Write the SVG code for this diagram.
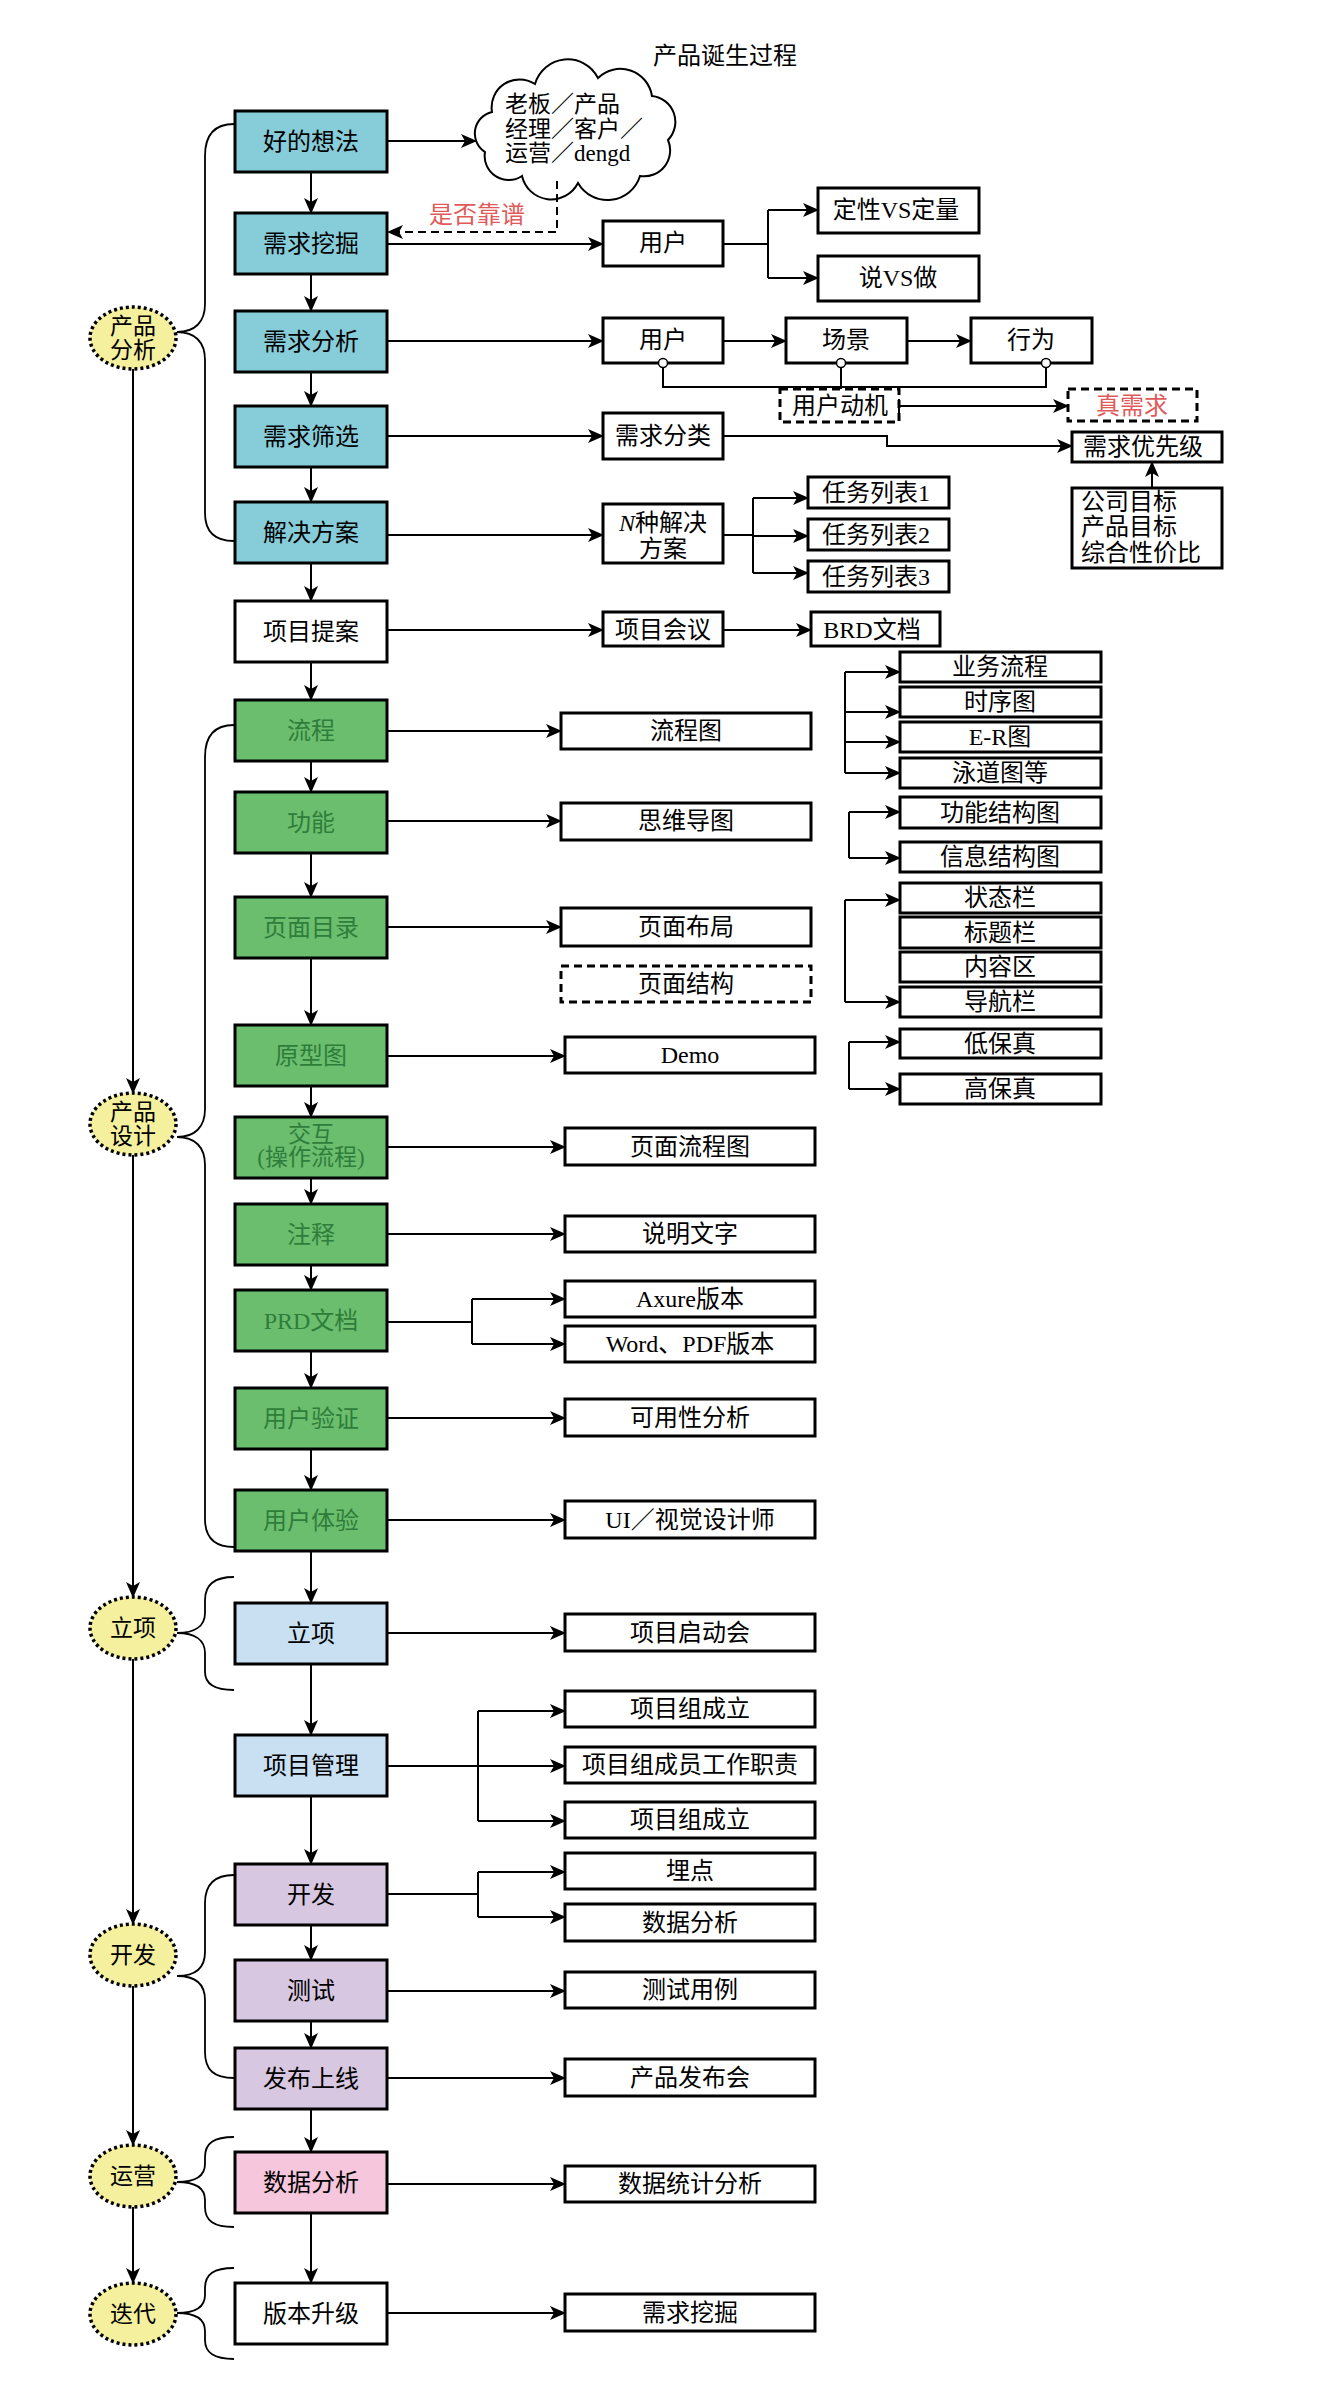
<svg xmlns="http://www.w3.org/2000/svg" width="1320" height="2397" viewBox="0 0 1320 2397">
<style>
text{font-family:"Liberation Serif","Noto Sans CJK SC",serif;font-size:24px;fill:#000}
.c{text-anchor:middle}
.s{font-size:23px}
.n{stroke:#000;stroke-width:3}
.blue{fill:#87CDD9}.green{fill:#6BBE6E}.lb{fill:#C9E0F3}.pur{fill:#D8C7E0}.pink{fill:#F6C6DC}.wh{fill:#fff}
.gt{fill:#2F7D3A}
.dash{fill:#fff;stroke:#000;stroke-width:3;stroke-dasharray:8 5}
.st{fill:#F5F09E;stroke:#000;stroke-width:3.5;stroke-dasharray:3 3}
.ln{fill:none;stroke:#000;stroke-width:2}
.ar{fill:none;stroke:#000;stroke-width:2;marker-end:url(#ah)}
.br{fill:none;stroke:#000;stroke-width:1.8}
.red{fill:#E05A5A}
</style>
<defs>
<marker id="ah" markerUnits="userSpaceOnUse" markerWidth="16" markerHeight="14" refX="15" refY="7" orient="auto"><path d="M0,0 L16,7 L0,14 L4,7 Z" fill="#000"/></marker>
<marker id="tk" markerUnits="userSpaceOnUse" markerWidth="4" markerHeight="14" refX="2" refY="7" orient="auto"><path d="M2,0 V14" stroke="#000" stroke-width="2"/></marker>
</defs>

<text class="c" x="725" y="64">产品诞生过程</text>

<!-- main column -->
<g id="n-idea"><rect class="n blue" x="235" y="111" width="152" height="61"/><text class="c" x="311" y="150">好的想法</text></g>
<g id="n-wajue"><rect class="n blue" x="235" y="213" width="152" height="61"/><text class="c" x="311" y="252">需求挖掘</text></g>
<g id="n-fenxi"><rect class="n blue" x="235" y="311" width="152" height="61"/><text class="c" x="311" y="350">需求分析</text></g>
<g id="n-shaixuan"><rect class="n blue" x="235" y="406" width="152" height="61"/><text class="c" x="311" y="445">需求筛选</text></g>
<g id="n-fangan"><rect class="n blue" x="235" y="502" width="152" height="61"/><text class="c" x="311" y="541">解决方案</text></g>
<g id="n-tian"><rect class="n wh" x="235" y="601" width="152" height="61"/><text class="c" x="311" y="640">项目提案</text></g>
<g id="n-liucheng"><rect class="n green" x="235" y="700" width="152" height="61"/><text class="c gt" x="311" y="739">流程</text></g>
<g id="n-gongneng"><rect class="n green" x="235" y="792" width="152" height="61"/><text class="c gt" x="311" y="831">功能</text></g>
<g id="n-mulu"><rect class="n green" x="235" y="897" width="152" height="61"/><text class="c gt" x="311" y="936">页面目录</text></g>
<g id="n-yuanxing"><rect class="n green" x="235" y="1025" width="152" height="61"/><text class="c gt" x="311" y="1064">原型图</text></g>
<g id="n-jiaohu"><rect class="n green" x="235" y="1117" width="152" height="61"/><text class="c gt s" x="311" y="1142">交互</text><text class="c gt s" x="311" y="1165">(操作流程)</text></g>
<g id="n-zhushi"><rect class="n green" x="235" y="1204" width="152" height="61"/><text class="c gt" x="311" y="1243">注释</text></g>
<g id="n-prd"><rect class="n green" x="235" y="1290" width="152" height="61"/><text class="c gt" x="311" y="1329">PRD文档</text></g>
<g id="n-yanzheng"><rect class="n green" x="235" y="1388" width="152" height="61"/><text class="c gt" x="311" y="1427">用户验证</text></g>
<g id="n-tiyan"><rect class="n green" x="235" y="1490" width="152" height="61"/><text class="c gt" x="311" y="1529">用户体验</text></g>
<g id="n-lixiang"><rect class="n lb" x="235" y="1603" width="152" height="61"/><text class="c" x="311" y="1642">立项</text></g>
<g id="n-guanli"><rect class="n lb" x="235" y="1735" width="152" height="61"/><text class="c" x="311" y="1774">项目管理</text></g>
<g id="n-kaifa"><rect class="n pur" x="235" y="1864" width="152" height="61"/><text class="c" x="311" y="1903">开发</text></g>
<g id="n-ceshi"><rect class="n pur" x="235" y="1960" width="152" height="61"/><text class="c" x="311" y="1999">测试</text></g>
<g id="n-fabu"><rect class="n pur" x="235" y="2048" width="152" height="61"/><text class="c" x="311" y="2087">发布上线</text></g>
<g id="n-shuju"><rect class="n pink" x="235" y="2152" width="152" height="61"/><text class="c" x="311" y="2191">数据分析</text></g>
<g id="n-banben"><rect class="n wh" x="235" y="2283" width="152" height="61"/><text class="c" x="311" y="2322">版本升级</text></g>

<!-- stage ellipses -->
<g id="s-fenxi"><ellipse class="st" cx="133" cy="338" rx="43" ry="31"/><text class="c s" x="133" y="334">产品</text><text class="c s" x="133" y="358">分析</text></g>
<g id="s-sheji"><ellipse class="st" cx="133" cy="1124" rx="43" ry="31"/><text class="c s" x="133" y="1120">产品</text><text class="c s" x="133" y="1144">设计</text></g>
<g id="s-lixiang"><ellipse class="st" cx="133" cy="1628" rx="43" ry="31"/><text class="c s" x="133" y="1636">立项</text></g>
<g id="s-kaifa"><ellipse class="st" cx="133" cy="1955" rx="43" ry="31"/><text class="c s" x="133" y="1963">开发</text></g>
<g id="s-yunying"><ellipse class="st" cx="133" cy="2176" rx="43" ry="31"/><text class="c s" x="133" y="2184">运营</text></g>
<g id="s-diedai"><ellipse class="st" cx="133" cy="2314" rx="43" ry="31"/><text class="c s" x="133" y="2322">迭代</text></g>

<!-- cloud -->
<g id="n-cloud">
<path d="M492,112 A28,28 0 0 1 535,84 A34,34 0 0 1 598,78 A32,32 0 0 1 652,96 A26,26 0 0 1 668,140 A26,26 0 0 1 640,176 A34,34 0 0 1 578,183 A30,30 0 0 1 522,176 A24,24 0 0 1 485,152 A22,22 0 0 1 492,112 Z" fill="#fff" stroke="#000" stroke-width="2"/>
<text class="s" x="505" y="112">老板／产品</text>
<text class="s" x="505" y="137">经理／客户／</text>
<text class="s" x="505" y="161">运营／dengd</text>
</g>
<text class="red" x="429" y="223">是否靠谱</text>

<!-- analysis side boxes -->
<g id="n-yonghu1"><rect class="n wh" x="603" y="221" width="120" height="45"/><text class="c" x="663" y="251">用户</text></g>
<g id="n-dingxing"><rect class="n wh" x="818" y="188" width="161" height="45"/><text class="c" x="896" y="218">定性VS定量</text></g>
<g id="n-shuo"><rect class="n wh" x="818" y="256" width="161" height="45"/><text class="c" x="898" y="286">说VS做</text></g>
<g id="n-yonghu2"><rect class="n wh" x="603" y="318" width="120" height="45"/><text class="c" x="663" y="348">用户</text></g>
<g id="n-changjing"><rect class="n wh" x="786" y="318" width="121" height="45"/><text class="c" x="846" y="348">场景</text></g>
<g id="n-xingwei"><rect class="n wh" x="971" y="318" width="121" height="45"/><text class="c" x="1031" y="348">行为</text></g>
<g id="n-dongji"><rect class="dash" x="780" y="389" width="119" height="33"/><text class="c" x="840" y="414">用户动机</text></g>
<g id="n-zhen"><rect class="dash" x="1068" y="389" width="129" height="32"/><text class="c red" x="1132" y="414">真需求</text></g>
<g id="n-fenlei"><rect class="n wh" x="603" y="413" width="120" height="46"/><text class="c" x="663" y="444">需求分类</text></g>
<g id="n-youxian"><rect class="n wh" x="1072" y="432" width="150" height="30"/><text class="c" x="1143" y="455">需求优先级</text></g>
<g id="n-mubiao"><rect class="n wh" x="1072" y="488" width="150" height="80"/><text x="1081" y="510">公司目标</text><text x="1081" y="535">产品目标</text><text x="1081" y="561">综合性价比</text></g>
<g id="n-nzhong"><rect class="n wh" x="603" y="504" width="120" height="59"/><text class="c" x="663" y="531"><tspan font-style="italic">N</tspan>种解决</text><text class="c" x="663" y="557">方案</text></g>
<g id="n-rw1"><rect class="n wh" x="808" y="477" width="141" height="31"/><text class="c" x="876" y="501">任务列表1</text></g>
<g id="n-rw2"><rect class="n wh" x="808" y="519" width="141" height="31"/><text class="c" x="876" y="543">任务列表2</text></g>
<g id="n-rw3"><rect class="n wh" x="808" y="561" width="141" height="31"/><text class="c" x="876" y="585">任务列表3</text></g>
<g id="n-huiyi"><rect class="n wh" x="603" y="612" width="120" height="34"/><text class="c" x="663" y="638">项目会议</text></g>
<g id="n-brd"><rect class="n wh" x="811" y="612" width="129" height="34"/><text class="c" x="872" y="638">BRD文档</text></g>

<!-- design side boxes -->
<g id="n-lct"><rect class="n wh" x="561" y="713" width="250" height="36"/><text class="c" x="686" y="739">流程图</text></g>
<g id="n-swdt"><rect class="n wh" x="561" y="803" width="250" height="37"/><text class="c" x="686" y="829">思维导图</text></g>
<g id="n-ymbj"><rect class="n wh" x="561" y="908" width="250" height="38"/><text class="c" x="686" y="935">页面布局</text></g>
<g id="n-ymjg"><rect class="dash" x="561" y="966" width="250" height="36"/><text class="c" x="686" y="992">页面结构</text></g>
<g id="n-demo"><rect class="n wh" x="565" y="1037" width="250" height="36"/><text class="c" x="690" y="1063">Demo</text></g>
<g id="n-ymlct"><rect class="n wh" x="565" y="1128" width="250" height="37"/><text class="c" x="690" y="1155">页面流程图</text></g>
<g id="n-smwz"><rect class="n wh" x="565" y="1216" width="250" height="36"/><text class="c" x="690" y="1242">说明文字</text></g>
<g id="n-axure"><rect class="n wh" x="565" y="1281" width="250" height="36"/><text class="c" x="690" y="1307">Axure版本</text></g>
<g id="n-word"><rect class="n wh" x="565" y="1326" width="250" height="36"/><text class="c" x="690" y="1352">Word、PDF版本</text></g>
<g id="n-kyx"><rect class="n wh" x="565" y="1399" width="250" height="37"/><text class="c" x="690" y="1426">可用性分析</text></g>
<g id="n-ui"><rect class="n wh" x="565" y="1501" width="250" height="37"/><text class="c" x="690" y="1528">UI／视觉设计师</text></g>

<g id="n-ywlc"><rect class="n wh" x="900" y="652" width="201" height="30"/><text class="c" x="1000" y="675">业务流程</text></g>
<g id="n-sxt"><rect class="n wh" x="900" y="687" width="201" height="30"/><text class="c" x="1000" y="710">时序图</text></g>
<g id="n-er"><rect class="n wh" x="900" y="722" width="201" height="30"/><text class="c" x="1000" y="745">E-R图</text></g>
<g id="n-ydt"><rect class="n wh" x="900" y="758" width="201" height="30"/><text class="c" x="1000" y="781">泳道图等</text></g>
<g id="n-gnjg"><rect class="n wh" x="900" y="797" width="201" height="31"/><text class="c" x="1000" y="821">功能结构图</text></g>
<g id="n-xxjg"><rect class="n wh" x="900" y="842" width="201" height="30"/><text class="c" x="1000" y="865">信息结构图</text></g>
<g id="n-ztl"><rect class="n wh" x="900" y="883" width="201" height="30"/><text class="c" x="1000" y="906">状态栏</text></g>
<g id="n-btl"><rect class="n wh" x="900" y="917" width="201" height="31"/><text class="c" x="1000" y="941">标题栏</text></g>
<g id="n-nrq"><rect class="n wh" x="900" y="952" width="201" height="30"/><text class="c" x="1000" y="975">内容区</text></g>
<g id="n-dhl"><rect class="n wh" x="900" y="987" width="201" height="30"/><text class="c" x="1000" y="1010">导航栏</text></g>
<g id="n-dbz"><rect class="n wh" x="900" y="1029" width="201" height="29"/><text class="c" x="1000" y="1052">低保真</text></g>
<g id="n-gbz"><rect class="n wh" x="900" y="1074" width="201" height="30"/><text class="c" x="1000" y="1097">高保真</text></g>

<!-- project / dev side boxes -->
<g id="n-qdh"><rect class="n wh" x="565" y="1614" width="250" height="37"/><text class="c" x="690" y="1641">项目启动会</text></g>
<g id="n-zcl1"><rect class="n wh" x="565" y="1691" width="250" height="36"/><text class="c" x="690" y="1717">项目组成立</text></g>
<g id="n-zz"><rect class="n wh" x="565" y="1747" width="250" height="36"/><text class="c" x="690" y="1773">项目组成员工作职责</text></g>
<g id="n-zcl2"><rect class="n wh" x="565" y="1802" width="250" height="36"/><text class="c" x="690" y="1828">项目组成立</text></g>
<g id="n-maidian"><rect class="n wh" x="565" y="1853" width="250" height="36"/><text class="c" x="690" y="1879">埋点</text></g>
<g id="n-sjfx"><rect class="n wh" x="565" y="1904" width="250" height="37"/><text class="c" x="690" y="1931">数据分析</text></g>
<g id="n-csyl"><rect class="n wh" x="565" y="1972" width="250" height="36"/><text class="c" x="690" y="1998">测试用例</text></g>
<g id="n-fbh"><rect class="n wh" x="565" y="2059" width="250" height="37"/><text class="c" x="690" y="2086">产品发布会</text></g>
<g id="n-tjfx"><rect class="n wh" x="565" y="2166" width="250" height="36"/><text class="c" x="690" y="2192">数据统计分析</text></g>
<g id="n-xqwj"><rect class="n wh" x="565" y="2294" width="250" height="37"/><text class="c" x="690" y="2321">需求挖掘</text></g>

<!-- connectors -->
<g id="connectors">
<!-- main vertical -->
<path class="ar" d="M311,172 V213"/>
<path class="ar" d="M311,274 V311"/>
<path class="ar" d="M311,372 V406"/>
<path class="ar" d="M311,467 V502"/>
<path class="ar" d="M311,563 V601"/>
<path class="ar" d="M311,662 V700"/>
<path class="ar" d="M311,761 V792"/>
<path class="ar" d="M311,853 V897"/>
<path class="ar" d="M311,958 V1025"/>
<path class="ar" d="M311,1086 V1117"/>
<path class="ar" d="M311,1178 V1204"/>
<path class="ar" d="M311,1265 V1290"/>
<path class="ar" d="M311,1351 V1388"/>
<path class="ar" d="M311,1449 V1490"/>
<path class="ar" d="M311,1551 V1603"/>
<path class="ar" d="M311,1664 V1735"/>
<path class="ar" d="M311,1796 V1864"/>
<path class="ar" d="M311,1925 V1960"/>
<path class="ar" d="M311,2021 V2048"/>
<path class="ar" d="M311,2109 V2152"/>
<path class="ar" d="M311,2213 V2283"/>
<!-- stage line -->
<path class="ar" d="M133,369 V1093"/>
<path class="ar" d="M133,1155 V1597"/>
<path class="ar" d="M133,1659 V1924"/>
<path class="ar" d="M133,1986 V2145"/>
<path class="ar" d="M133,2207 V2283"/>
<!-- braces -->
<path class="br" d="M234,124 C214,124 205,136 205,156 L205,304 C205,322 195,332 177,332 C195,332 205,342 205,360 L205,513 C205,531 214,541 234,541"/>
<path class="br" d="M234,725 C214,725 205,737 205,757 L205,1109 C205,1127 195,1137 177,1137 C195,1137 205,1147 205,1165 L205,1519 C205,1537 214,1547 234,1547"/>
<path class="br" d="M234,1577 C214,1577 205,1585 205,1600 L205,1613 C205,1626 195,1633 177,1633 C195,1633 205,1640 205,1653 L205,1672 C205,1684 214,1690 234,1690"/>
<path class="br" d="M234,1875 C214,1875 205,1885 205,1903 L205,1952 C205,1968 195,1976 177,1976 C195,1976 205,1984 205,2000 L205,2052 C205,2070 214,2078 234,2078"/>
<path class="br" d="M234,2137 C214,2137 205,2143 205,2157 L205,2164 C205,2176 195,2182 177,2182 C195,2182 205,2188 205,2200 L205,2207 C205,2221 214,2227 234,2227"/>
<path class="br" d="M234,2268 C214,2268 205,2274 205,2288 L205,2295 C205,2307 195,2313 177,2313 C195,2313 205,2319 205,2331 L205,2340 C205,2353 214,2359 234,2359"/>
<!-- analysis -->
<path class="ar" d="M387,141 H476"/>
<path class="ar" d="M557,181 V232 H388" stroke-dasharray="8 5"/>
<path class="ar" d="M387,244 H603"/>
<path class="ln" d="M723,244 H768 M768,210 V278"/>
<path class="ar" d="M768,210 H818"/>
<path class="ar" d="M768,278 H818"/>
<path class="ar" d="M387,341 H603"/>
<path class="ar" d="M723,341 H786"/>
<path class="ar" d="M907,341 H971"/>
<path class="ln" d="M663,367 V387 H1046 V367 M841,367 V389"/>
<circle cx="663" cy="363" r="4.5" fill="#fff" stroke="#000" stroke-width="1.5"/>
<circle cx="841" cy="363" r="4.5" fill="#fff" stroke="#000" stroke-width="1.5"/>
<circle cx="1046" cy="363" r="4.5" fill="#fff" stroke="#000" stroke-width="1.5"/>
<path class="ar" d="M899,406 H1068" marker-start="url(#tk)"/>
<path class="ar" d="M387,436 H603"/>
<path class="ar" d="M723,436 H887 V446 H1072"/>
<path class="ar" d="M1152,488 V462"/>
<path class="ar" d="M387,535 H603"/>
<path class="ln" d="M723,535 H753 M753,498 V573"/>
<path class="ar" d="M753,498 H808"/>
<path class="ar" d="M753,536 H808"/>
<path class="ar" d="M753,573 H808"/>
<path class="ar" d="M387,630 H603"/>
<path class="ar" d="M723,630 H811"/>
<!-- design -->
<path class="ar" d="M387,731 H561"/>
<path class="ar" d="M387,821 H561"/>
<path class="ar" d="M387,927 H561"/>
<path class="ar" d="M387,1056 H565"/>
<path class="ar" d="M387,1147 H565"/>
<path class="ar" d="M387,1234 H565"/>
<path class="ln" d="M387,1322 H472 M472,1299 V1344"/>
<path class="ar" d="M472,1299 H565"/>
<path class="ar" d="M472,1344 H565"/>
<path class="ar" d="M387,1418 H565"/>
<path class="ar" d="M387,1520 H565"/>
<path class="ln" d="M845,672 V773"/>
<path class="ar" d="M845,672 H900"/>
<path class="ar" d="M845,712 H900"/>
<path class="ar" d="M845,742 H900"/>
<path class="ar" d="M845,773 H900"/>
<path class="ln" d="M849,812 V858"/>
<path class="ar" d="M849,812 H900"/>
<path class="ar" d="M849,858 H900"/>
<path class="ln" d="M845,900 V1002"/>
<path class="ar" d="M845,900 H900"/>
<path class="ar" d="M845,1002 H900"/>
<path class="ln" d="M849,1042 V1089"/>
<path class="ar" d="M849,1042 H900"/>
<path class="ar" d="M849,1089 H900"/>
<!-- project/dev -->
<path class="ar" d="M387,1633 H565"/>
<path class="ar" d="M387,1766 H565"/>
<path class="ln" d="M478,1711 V1821"/>
<path class="ar" d="M478,1711 H565"/>
<path class="ar" d="M478,1821 H565"/>
<path class="ln" d="M387,1894 H478 M478,1872 V1917"/>
<path class="ar" d="M478,1872 H565"/>
<path class="ar" d="M478,1917 H565"/>
<path class="ar" d="M387,1991 H565"/>
<path class="ar" d="M387,2078 H565"/>
<path class="ar" d="M387,2184 H565"/>
<path class="ar" d="M387,2313 H565"/>
</g>
</svg>
